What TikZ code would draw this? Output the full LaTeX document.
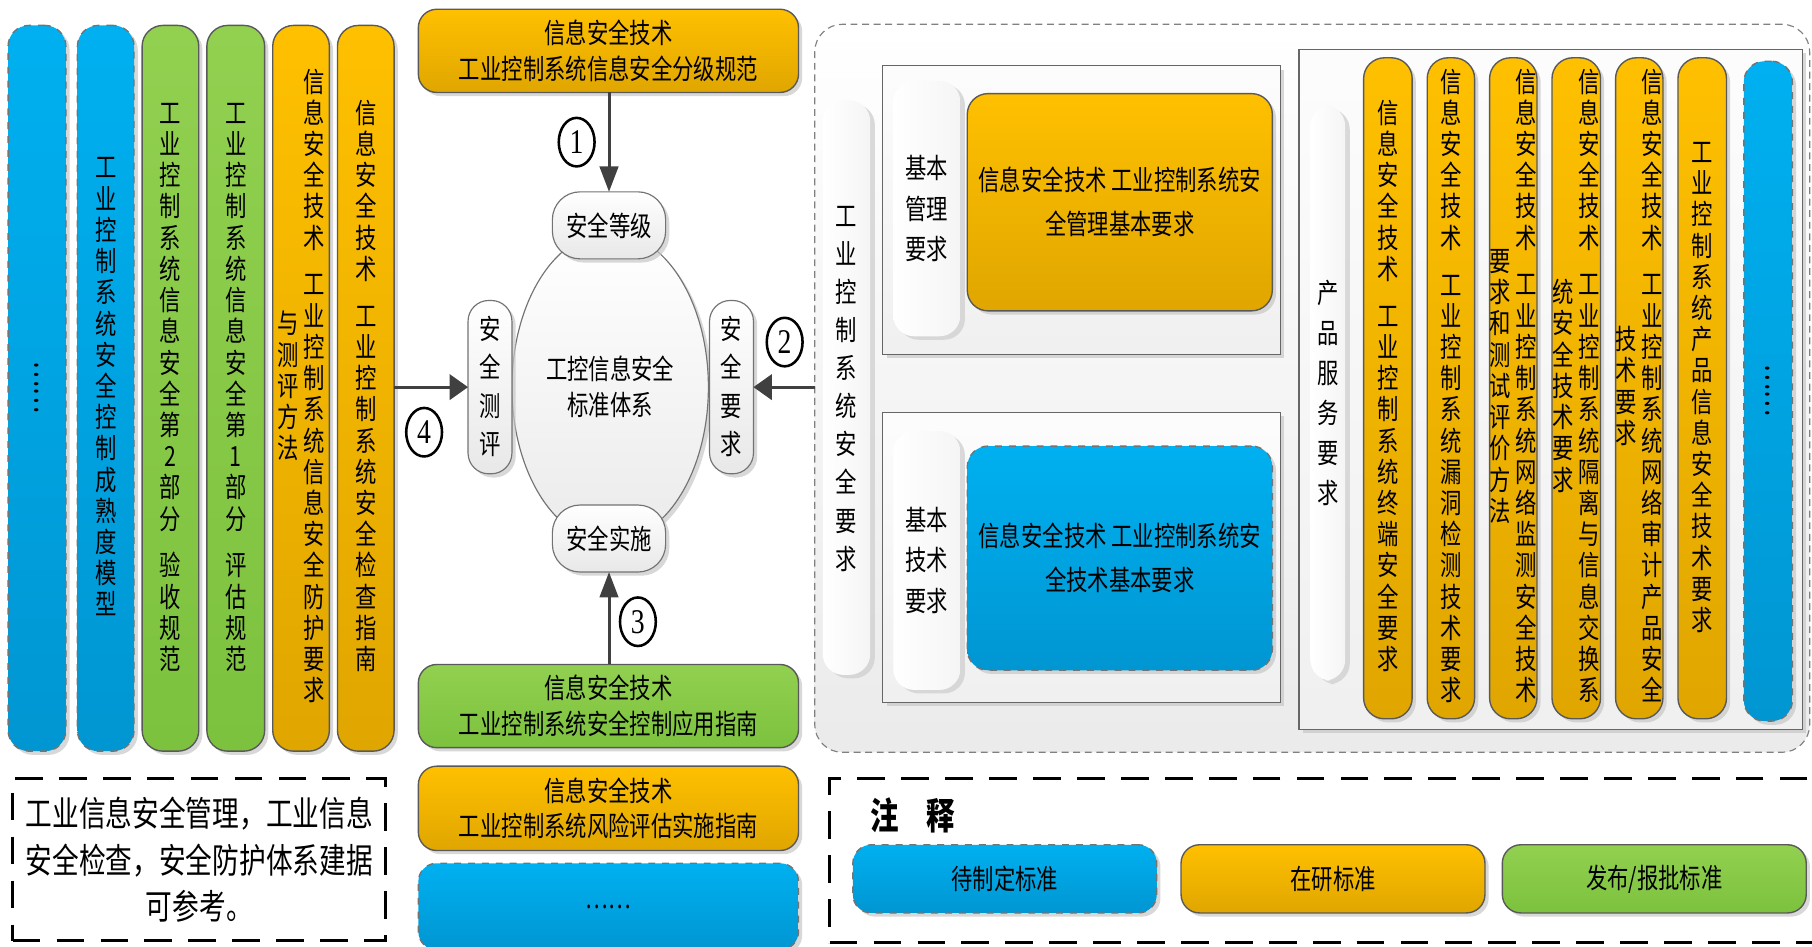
\documentclass[tikz,border=0pt]{standalone}
\usepackage{fontspec}
\setmainfont{Noto Sans CJK SC}[FakeStretch=0.77]
\newfontfamily\numfont{Liberation Serif}[FakeStretch=0.8]
\usetikzlibrary{shapes.geometric,arrows.meta,shadows}

\definecolor{bluetop}{HTML}{00B0F0}
\definecolor{bluebot}{HTML}{0096D2}
\definecolor{orgtop}{HTML}{FFC000}
\definecolor{orgbot}{HTML}{E0A600}
\definecolor{grntop}{HTML}{92D050}
\definecolor{grnbot}{HTML}{7CC23E}
\definecolor{linegray}{HTML}{595959}
\definecolor{arrgray}{HTML}{404040}

\ExplSyntaxOn
\dim_new:N \l_vt_pitch_dim
\cs_new_protected:Npn \vt_item:n #1
 {
  \str_if_eq:nnTF {#1} {|}
   { \kern 0.5\l_vt_pitch_dim }
   { \hbox to 11pt { \hss \vrule width 0pt height 0.76\l_vt_pitch_dim depth 0.24\l_vt_pitch_dim #1 \hss } }
 }
\NewDocumentCommand \vt { O{13.5pt} m }
 {
  \dim_set:Nn \l_vt_pitch_dim {#1}
  \vbox { \offinterlineskip \tl_map_function:nN {#2} \vt_item:n }
 }
\NewDocumentCommand \vtwo { O{13.5pt} m m }
 { \makebox[0pt]{ \ensuremath{ \vcenter{\hbox{\vt[#1]{#2}}} \vcenter{\hbox{\vt[#1]{#3}}} } } }
\ExplSyntaxOff

\newcommand\mkbox[7]{\node[#6,minimum width={(#4-#2)*0.5pt},minimum height={(#5-#3)*0.5pt}] (#1) at ({(#2+#4)/2},{(#3+#5)/2}) {#7};}

\tikzset{
  base/.style={inner sep=0pt, outer sep=0pt, align=center, text=black, font=\fontsize{12}{15.5}\selectfont},
  shd/.style={drop shadow={shadow xshift=1.6pt, shadow yshift=-1.6pt, fill=black!22, opacity=0.7}},
  org/.style={base, shd, rounded corners=9pt, draw=linegray, line width=0.6pt, top color=orgtop, bottom color=orgbot},
  grn/.style={base, shd, rounded corners=9pt, draw=linegray, line width=0.6pt, top color=grntop, bottom color=grnbot},
  blu/.style={base, shd, rounded corners=9pt, draw=black!55, line width=0.6pt, dashed, top color=bluetop, bottom color=bluebot},
  gcap/.style={base, shd, rounded corners=12pt, draw=black!55, line width=0.5pt, top color=white, bottom color=black!9},
  lcap/.style={base, rounded corners=9pt, left color=white, right color=black!4,
     drop shadow={shadow xshift=2pt, shadow yshift=-1.5pt, fill=black!18, opacity=0.8}},
  rbox/.style={base, shd, draw=black!60, line width=0.5pt, top color=black!1, bottom color=black!6},
  region/.style={base, rounded corners=12pt, draw=black!50, line width=0.5pt, dash pattern=on 3pt off 2pt, top color=white, bottom color=black!8},
  notebox/.style={base, draw=black, line width=1.3pt, dash pattern=on 12pt off 7pt},
  lab/.style={ellipse, draw=black, line width=1.1pt, fill=white, minimum width=15.5pt, minimum height=21pt, inner sep=0pt, font=\numfont\fontsize{15}{15}\selectfont},
  arrV/.style={draw=arrgray, line width=1.3pt, -{Triangle[length=11pt,width=8pt]}},
  arrH/.style={draw=arrgray, line width=1.3pt, -{Triangle[length=8pt,width=11pt]}},
}

\begin{document}
\begin{tikzpicture}[x=0.5pt,y=-0.5pt]
\useasboundingbox (0,0) rectangle (1568,819);

% ---------- left columns ----------
\mkbox{c1}{7}{22}{57}{650}{blu}{\rotatebox{90}{\fontsize{14}{14}\selectfont ……}}
\mkbox{c2}{67}{22}{116}{650}{blu}{\vt{工业控制系统安全控制成熟度模型}}
\mkbox{c3}{123}{22}{172}{650}{grn}{\vt{工业控制系统信息安全第2部分|验收规范}}
\mkbox{c4}{179}{22}{229}{650}{grn}{\vt{工业控制系统信息安全第1部分|评估规范}}
\mkbox{c5}{236}{22}{285}{650}{org}{\vtwo{与测评方法}{信息安全技术|工业控制系统信息安全防护要求}}
\mkbox{c6}{292}{22}{341}{650}{org}{\vt{信息安全技术|工业控制系统安全检查指南}}

% ---------- centre ----------
\mkbox{gradeStd}{362}{8}{691}{80}{org, rounded corners=8pt}{信息安全技术\\工业控制系统信息安全分级规范}
\node[base, shd, ellipse, draw=black!55, line width=0.5pt, top color=white, bottom color=black!8,
      minimum width=85pt, minimum height=134pt] (sys) at (528,335) {工控信息安全\\标准体系};
\mkbox{lvl}{478}{166}{576}{224}{gcap}{安全等级}
\mkbox{impl}{478}{437}{576}{495}{gcap}{安全实施}
\mkbox{eval}{405}{260}{443}{410}{gcap, rounded corners=9pt}{\vt[16.5pt]{安全测评}}
\mkbox{req}{614}{260}{652}{410}{gcap, rounded corners=9pt}{\vt[16.5pt]{安全要求}}
\mkbox{ctrlStd}{362}{575}{691}{647}{grn, rounded corners=8pt}{信息安全技术\\工业控制系统安全控制应用指南}
\mkbox{riskStd}{362}{663}{691}{736}{org, rounded corners=8pt}{信息安全技术\\工业控制系统风险评估实施指南}
\mkbox{more}{362}{747}{691}{822}{blu, rounded corners=8pt}{……}

% ---------- right region ----------
\mkbox{region}{705}{21}{1566}{651}{region}{}
\mkbox{reqAll}{712}{87}{753}{584}{lcap}{\vt[16.5pt]{工业控制系统安全要求}}
\mkbox{mgmtBox}{764}{57}{1108}{307}{rbox}{}
\mkbox{mgmtLbl}{773}{70}{831}{291}{lcap, font=\fontsize{12}{17.5}\selectfont}{基本\\管理\\要求}
\mkbox{mgmtStd}{837}{81}{1101}{269}{org, font=\fontsize{12}{19}\selectfont}{信息安全技术 工业控制系统安\\全管理基本要求}
\mkbox{techBox}{764}{357}{1108}{608}{rbox}{}
\mkbox{techLbl}{773}{373}{831}{597}{lcap, font=\fontsize{12}{17.5}\selectfont}{基本\\技术\\要求}
\mkbox{techStd}{837}{386}{1101}{580}{blu, font=\fontsize{12}{19}\selectfont}{信息安全技术 工业控制系统安\\全技术基本要求}
\mkbox{prodBox}{1124}{43}{1560}{631}{rbox}{}
\mkbox{prodLbl}{1134}{91}{1164}{589}{lcap}{\vt[17.3pt]{产品服务要求}}
\mkbox{p1}{1180}{50}{1222}{622}{org}{\vt{信息安全技术|工业控制系统终端安全要求}}
\mkbox{p2}{1235}{50}{1276}{622}{org}{\vt{信息安全技术|工业控制系统漏洞检测技术要求}}
\mkbox{p3}{1289}{50}{1330}{622}{org}{\vtwo{要求和测试评价方法}{信息安全技术|工业控制系统网络监测安全技术}}
\mkbox{p4}{1343}{50}{1385}{622}{org}{\vtwo{统安全技术要求}{信息安全技术|工业控制系统隔离与信息交换系}}
\mkbox{p5}{1398}{50}{1439}{622}{org}{\vtwo{技术要求}{信息安全技术|工业控制系统网络审计产品安全}}
\mkbox{p6}{1452}{50}{1494}{622}{org}{\vt{工业控制系统产品信息安全技术要求}}
\mkbox{p7}{1509}{53}{1551}{624}{blu}{\rotatebox{90}{\fontsize{14}{14}\selectfont ……}}

% ---------- connectors ----------
\draw[arrV] (gradeStd.south -| lvl.north) -- (lvl.north);
\draw[arrV] (ctrlStd.north -| impl.south) -- (impl.south);
\draw[arrH] (region.west |- req.east) -- (req.east);
\draw[arrH] (c6.east |- eval.west) -- (eval.west);
\node[lab] (n1) at (499,123) {1};
\node[lab] (n2) at (679,296) {2};
\node[lab] (n3) at (552,538) {3};
\node[lab] (n4) at (367,374) {4};

% ---------- bottom ----------
\mkbox{noteBox}{11}{674}{334}{814}{notebox, font=\fontsize{15}{20}\selectfont}{工业信息安全管理，工业信息\\安全检查，安全防护体系建据\\可参考。}
\mkbox{legendBox}{718}{674}{1640}{816}{notebox}{}
\node[base, font=\bfseries\fontsize{16}{16}\selectfont] (legTitle) at (790,706) {注\hspace{12pt}释};
\mkbox{lg1}{738}{731}{1001}{790}{blu, rounded corners=8pt}{待制定标准}
\mkbox{lg2}{1022}{731}{1285}{790}{org, rounded corners=8pt}{在研标准}
\mkbox{lg3}{1300}{731}{1563}{790}{grn, rounded corners=8pt}{发布/报批标准}
\end{tikzpicture}
\end{document}
